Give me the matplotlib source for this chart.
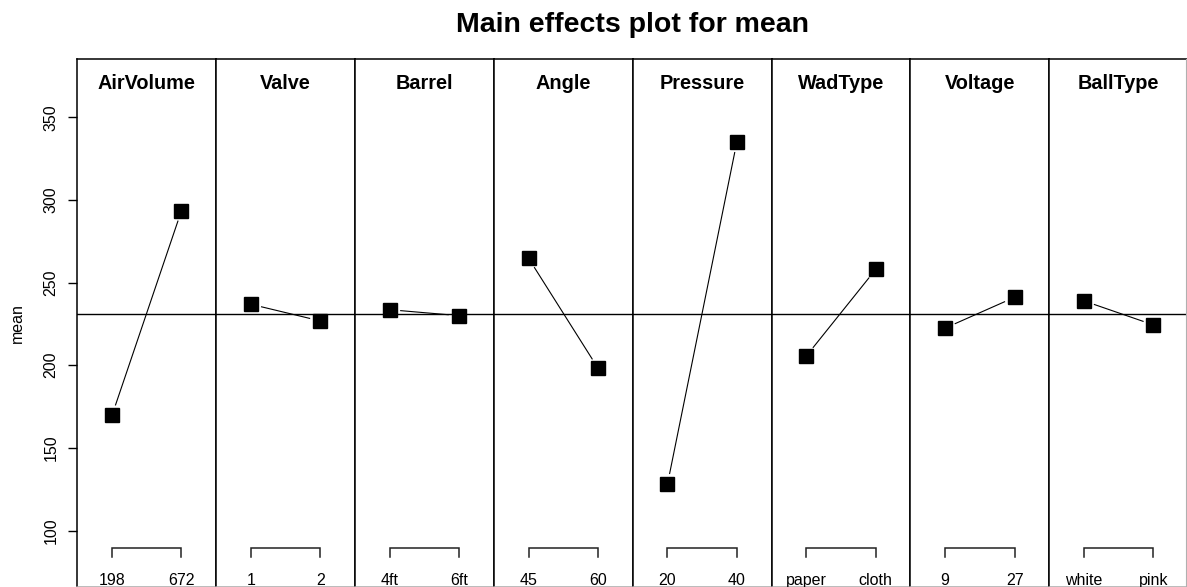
import matplotlib
matplotlib.use('Agg')
import matplotlib.pyplot as plt
from matplotlib.lines import Line2D
import numpy as np

plt.rcParams['font.family'] = ['Liberation Sans', 'DejaVu Sans']

factors = ['AirVolume', 'Valve', 'Barrel', 'Angle', 'Pressure', 'WadType', 'Voltage', 'BallType']
level_labels = [['198', '672'], ['1', '2'], ['4ft', '6ft'], ['45', '60'],
                ['20', '40'], ['paper', 'cloth'], ['9', '27'], ['white', 'pink']]
low_means = [169.7, 236.9, 233.6, 264.7, 128.0, 205.6, 222.5, 238.9]
high_means = [293.5, 226.8, 230.0, 198.2, 335.2, 258.0, 241.1, 224.4]
grand_mean = 231.2
yticks = [100, 150, 200, 250, 300, 350]

W, H = 1187, 587
fig = plt.figure(figsize=(W / 100, H / 100), dpi=100)

# panel geometry in pixels
left_px, panel_px = 77.3, 138.86
top_px, bottom_px = 59, 586.5
ylim = (66.15, 385.27)

axes = []
for i, name in enumerate(factors):
    ax = fig.add_axes([(left_px + i * panel_px) / W, (H - bottom_px) / H,
                       panel_px / W, (bottom_px - top_px) / H])
    ax.set_xlim(0.5, 2.5)
    ax.set_ylim(*ylim)
    ax.set_xticks([])
    for s in ax.spines.values():
        s.set_linewidth(1.1)
        s.set_color('black')
    ax.spines['bottom'].set_color('#a8a8a8')
    if i > 0:
        ax.set_yticks([])
    axes.append(ax)

    ax.axhline(grand_mean, color='black', lw=1.0, zorder=2)

    # connecting line with small gaps around the points (type "b")
    xs = np.array([1.0, 2.0])
    ys = np.array([low_means[i], high_means[i]])
    pts = ax.transData.transform(np.column_stack([xs, ys]))
    d = pts[1] - pts[0]
    dist = np.hypot(*d)
    gap = 11.0
    if dist > 2 * gap:
        u = d / dist
        seg = np.array([pts[0] + u * gap, pts[1] - u * gap])
        seg = ax.transData.inverted().transform(seg)
        ax.plot(seg[:, 0], seg[:, 1], color='black', lw=0.8, zorder=3)
    ax.plot(xs, ys, linestyle='none', marker='s', markersize=10.4,
            color='black', zorder=4)

    ax.text(0.5, (bottom_px - 89.3) / (bottom_px - top_px), name,
            transform=ax.transAxes, ha='center', va='baseline',
            fontsize=14.3, fontweight='bold')

    # level bracket and labels
    ax.plot([1, 1, 2, 2], [84.2, 89.3, 89.3, 84.2], color='#222222', lw=1.1,
            solid_joinstyle='miter', clip_on=False)
    for x, lab in zip(xs, level_labels[i]):
        ax.text(x, 66.8, lab, ha='center', va='baseline', fontsize=11.5)

ax0 = axes[0]
ax0.set_yticks(yticks)
ax0.set_yticklabels([str(v) for v in yticks], rotation=90, va='center')
ax0.tick_params(axis='y', length=6.5, width=1, pad=7, labelsize=11.5)

fig.text(17.5 / W, (H - (bottom_px + top_px) / 2) / H, 'mean', rotation=90,
         ha='center', va='center', fontsize=11.5)

mid = left_px + 4 * panel_px
fig.text(mid / W, (H - 31.7) / H, 'Main effects plot for mean',
         ha='center', va='baseline', fontsize=20.5, fontweight='bold')

fig.add_artist(Line2D([1186 / W, 1186 / W], [0, (H - top_px) / H],
                      color='#b0b0b0', lw=0.8))

fig.savefig('out.png', dpi=100)
